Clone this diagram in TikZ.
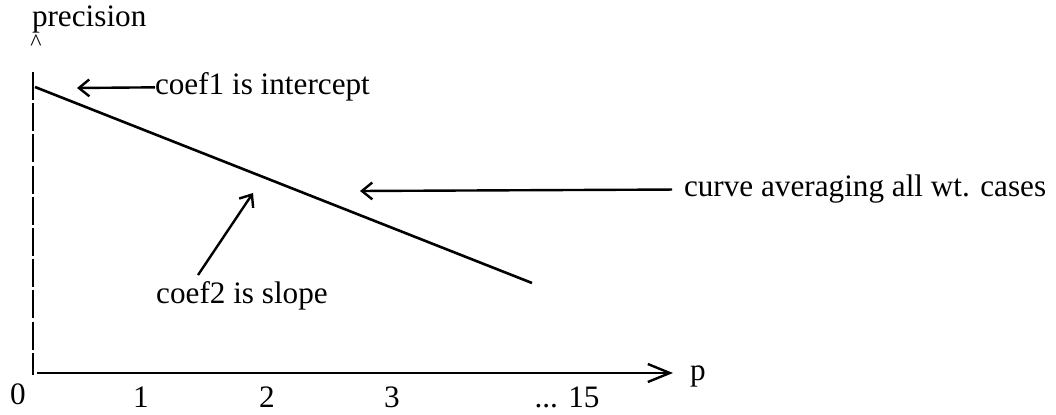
\documentclass[tikz,border=0pt]{standalone}
\usepackage{fontspec}
\setmainfont{Liberation Serif}
\usetikzlibrary{arrows.meta}
\begin{document}
\begin{tikzpicture}[x=0.25pt,y=-0.25pt,
  lbl/.style={font=\fontsize{7.8}{9.5}\selectfont, inner sep=0pt, outer sep=0pt},
  ptr/.style={line width=0.6pt, -{Straight Barb[length=2.6pt,width=4.2pt,line width=0.6pt]}},
  axisline/.style={line width=0.6pt}]
\useasboundingbox (0,0) rectangle (1056,415);
% coordinates
\coordinate (ytop) at (33,72);
\coordinate (orig) at (33,375);
\coordinate (xstart) at (37,373);
\coordinate (xend) at (673,373);
\coordinate (c0) at (35,87);
\coordinate (c1) at (532,283);
\coordinate (t1) at (77,88);
\coordinate (t2) at (360,191);
\coordinate (t3) at (253,193);
% labels
\node[lbl, anchor=base west] (prec) at (32,27) {precision};
\node[lbl, font=\fontsize{6}{7}\selectfont] (caret) at (36,43) {\textasciicircum};
\node[lbl, anchor=base west] (coef1) at (155,95) {coef1 is intercept};
\node[lbl, anchor=base west] (curve) at (684,197) {curve averaging all wt. cases};
\node[lbl, anchor=base] (coef2) at (242,303) {coef2 is slope};
\node[lbl, anchor=base west] (p) at (690,380) {p};
\node[lbl, anchor=base] (l0) at (18,404) {0};
\node[lbl, anchor=base] (l1) at (141,407) {1};
\node[lbl, anchor=base] (l2) at (267,407) {2};
\node[lbl, anchor=base] (l3) at (392,407) {3};
\node[lbl, anchor=base] (l15) at (567,407) {... 15};
% axes
\draw[axisline, dash pattern=on 7pt off 0.8pt] (ytop) -- (orig);
\draw[axisline, -{Straight Barb[length=5.5pt,width=4.5pt,line width=0.6pt]}] (xstart) -- (xend);
% curve
\draw[line width=0.65pt] (c0) -- (c1);
% pointers
\draw[ptr] (coef1.west) -- (t1);
\draw[ptr] ([xshift=-3pt]curve.west) -- (t2);
\draw[ptr] ([xshift=-11pt,yshift=1.5pt]coef2.north) -- (t3);
\end{tikzpicture}
\end{document}
